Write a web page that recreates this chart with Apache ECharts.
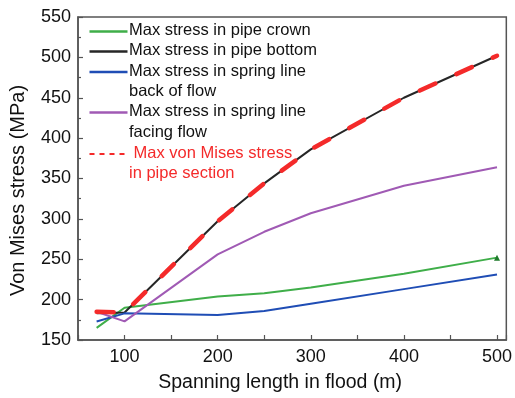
<!DOCTYPE html>
<html>
<head>
<meta charset="utf-8">
<script src="https://cdn.jsdelivr.net/npm/echarts@6/dist/echarts.min.js"></script>
<style>
html,body{margin:0;padding:0;background:#fff;}
#chart{width:515px;height:398px;}
</style>
</head>
<body>
<div id="chart"></div>
<script>
const spans = [70, 100, 200, 250, 300, 400, 500];
const crown = [165, 190, 204, 208, 215, 232, 252];
const bottom = [183, 184, 297, 344, 386, 450, 502];
const springBack = [173, 183, 181, 186, 195, 213, 231];
const springFacing = [185, 173, 256, 284, 307, 341, 364];
const maxSection = [185, 184, 297, 344, 386, 450, 502];

const seriesNames = [
  'Max stress in pipe crown',
  'Max stress in pipe bottom',
  'Max stress in spring line\nback of flow',
  'Max stress in spring line\nfacing flow',
  ' Max von Mises stress\nin pipe section'
];
const colors = ['#3fae49', '#262626', '#1f4db5', '#a05ab4', '#f42a2a'];

const FONT = 'Liberation Sans, Arial, sans-serif';
const pair = (xs, ys) => xs.map((x, i) => [x, ys[i]]);

const chart = echarts.init(document.getElementById('chart'), null, {renderer: 'canvas'});

const crownData = pair(spans, crown).map((p, i, a) =>
  i === a.length - 1 ? {value: p, symbol: 'triangle', symbolSize: 6, itemStyle: {color: '#1e7a2a'}} : {value: p, symbol: 'none'});

const lineSeries = (name, data, color, extra) => Object.assign({
  name, type: 'line', data, showSymbol: false, symbol: 'none',
  lineStyle: {color, width: 2}, itemStyle: {color}, animation: false
}, extra || {});

// legend built as graphic elements
const legendRows = [
  {y: 30, color: colors[0], lines: ['Max stress in pipe crown'], text: '#111'},
  {y: 50, color: colors[1], lines: ['Max stress in pipe bottom'], text: '#111'},
  {y: 70.5, color: colors[2], lines: ['Max stress in spring line', 'back of flow'], text: '#111'},
  {y: 111, color: colors[3], lines: ['Max stress in spring line', 'facing flow'], text: '#111'},
  {y: 152.5, color: colors[4], lines: [' Max von Mises stress', 'in pipe section'], text: '#f42a2a', dashed: true}
];
const graphics = [];
legendRows.forEach(r => {
  graphics.push({
    type: 'line', left: 87, top: r.y - 1,
    shape: {x1: 0, y1: 0, x2: 38, y2: 0},
    style: {stroke: r.color, lineWidth: r.dashed ? 2 : 2.5, lineDash: r.dashed ? [5, 5] : null}
  });
  r.lines.forEach((t, k) => {
    graphics.push({
      type: 'text', left: 129, top: r.y + k * 20.5 - 8,
      style: {text: t, fill: r.text, font: '16.5px ' + FONT}
    });
  });
});

chart.setOption({
  backgroundColor: '#fff',
  animation: false,
  grid: {left: 77, top: 17, right: 5, bottom: 57, show: true, borderColor: '#555', borderWidth: 1.5},
  xAxis: {
    type: 'value', min: 50, max: 510, interval: 50,
    name: 'Spanning length in flood (m)', nameLocation: 'middle', nameGap: 33,
    nameTextStyle: {fontFamily: FONT, fontSize: 19.5, color: '#111', padding: [0, 24, 0, 0]},
    axisLine: {show: true, lineStyle: {color: '#555', width: 1.5}},
    axisTick: {show: true, inside: true, length: 5, lineStyle: {color: '#555', width: 1.2}},
    axisLabel: {margin: 8, fontFamily: FONT, fontSize: 18, color: '#111',
      formatter: v => (v % 100 === 0 ? String(v) : '')},
    splitLine: {show: false}
  },
  yAxis: {
    type: 'value', min: 150, max: 550, interval: 50,
    name: 'Von Mises stress (MPa)', nameLocation: 'middle', nameGap: 50, nameRotate: 90,
    nameTextStyle: {fontFamily: FONT, fontSize: 20, color: '#111', padding: [0, 24, 0, 0]},
    axisLine: {show: true, lineStyle: {color: '#555', width: 1.5}},
    axisTick: {show: true, inside: true, length: 5, lineStyle: {color: '#555', width: 1.2}},
    minorTick: {show: true, splitNumber: 2, length: 3, lineStyle: {color: '#555', width: 1.2}},
    axisLabel: {margin: 7, fontFamily: FONT, fontSize: 18, color: '#111'},
    splitLine: {show: false}, minorSplitLine: {show: false}
  },
  series: [
    lineSeries(seriesNames[0], crownData, colors[0], {showSymbol: true}),
    lineSeries(seriesNames[1], pair(spans, bottom), colors[1]),
    lineSeries(seriesNames[2], pair(spans, springBack), colors[2]),
    lineSeries(seriesNames[3], pair(spans, springFacing), colors[3]),
    lineSeries(seriesNames[4], pair(spans, maxSection), colors[4], {
      lineStyle: {color: colors[4], width: 4.5, type: [17, 23], cap: 'round'}, z: 5
    })
  ],
  graphic: graphics
});
</script>
</body>
</html>
